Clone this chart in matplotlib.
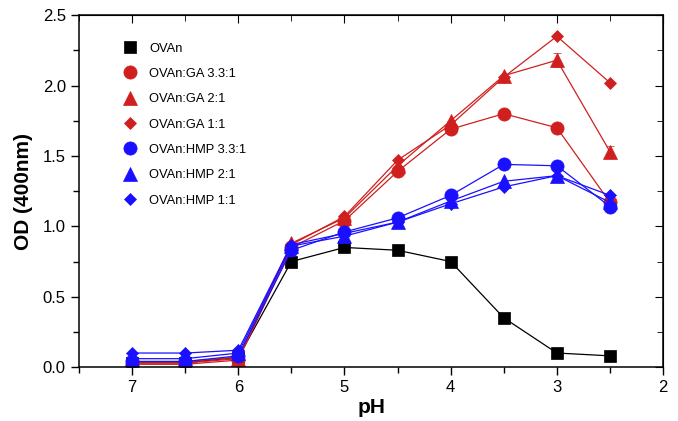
import matplotlib
matplotlib.use("Agg")
import matplotlib.pyplot as plt
import matplotlib.lines as mlines
from matplotlib.ticker import MultipleLocator, FormatStrFormatter

plt.rcParams['font.family'] = ['Liberation Sans', 'DejaVu Sans']

ph = [7, 6.5, 6, 5.5, 5, 4.5, 4, 3.5, 3, 2.5]
ovan = [0.03, 0.03, 0.07, 0.75, 0.85, 0.83, 0.75, 0.35, 0.10, 0.08]
ga33 = [0.02, 0.02, 0.05, 0.85, 1.04, 1.39, 1.69, 1.80, 1.70, 1.17]
ga21 = [0.03, 0.03, 0.06, 0.88, 1.06, 1.43, 1.75, 2.07, 2.18, 1.53]
ga11 = [0.04, 0.04, 0.07, 0.87, 1.07, 1.47, 1.72, 2.06, 2.35, 2.02]
hmp33 = [0.04, 0.04, 0.08, 0.83, 0.96, 1.06, 1.22, 1.44, 1.43, 1.14]
hmp21 = [0.06, 0.06, 0.10, 0.86, 0.93, 1.03, 1.18, 1.32, 1.36, 1.17]
hmp11 = [0.10, 0.10, 0.12, 0.87, 0.95, 1.03, 1.16, 1.28, 1.36, 1.22]
ga21_err = [0, 0, 0, 0, 0, 0, 0, 0, 0.05, 0.04]

labels = ['OVAn', 'OVAn:GA 3.3:1', 'OVAn:GA 2:1', 'OVAn:GA 1:1',
          'OVAn:HMP 3.3:1', 'OVAn:HMP 2:1', 'OVAn:HMP 1:1']

RED = '#d01f1f'
BLUE = '#1a10ff'

fig = plt.figure(figsize=(6.78, 4.21), dpi=100)
ax = fig.add_axes([0.1165, 0.128, 0.8615, 0.836])

series = [
    (ovan, 'black', 's', 8.5, None),
    (ga33, RED, 'o', 9.5, None),
    (ga21, RED, '^', 10, ga21_err),
    (ga11, RED, 'D', 6.5, None),
    (hmp33, BLUE, 'o', 9.5, None),
    (hmp21, BLUE, '^', 10, None),
    (hmp11, BLUE, 'D', 6.5, None),
]
for (vals, c, m, ms, err), lab in zip(series, labels):
    ax.errorbar(ph, vals, yerr=err, color=c, marker=m, markersize=ms, lw=0.9,
                capsize=3, elinewidth=0.9, markeredgewidth=0.5, label=lab)

ax.set_xlim(7.5, 2)
ax.set_ylim(0, 2.5)
ax.xaxis.set_major_locator(MultipleLocator(1))
ax.xaxis.set_minor_locator(MultipleLocator(0.5))
ax.yaxis.set_major_locator(MultipleLocator(0.5))
ax.yaxis.set_minor_locator(MultipleLocator(0.25))
ax.yaxis.set_major_formatter(FormatStrFormatter('%.1f'))
ax.tick_params(which='major', direction='out', length=6, width=1, labelsize=12)
ax.tick_params(which='minor', direction='out', length=4, width=1)

top = ax.secondary_xaxis('top')
top.xaxis.set_major_locator(MultipleLocator(1))
top.xaxis.set_minor_locator(MultipleLocator(0.5))
top.tick_params(which='major', direction='in', length=6, labeltop=False)
top.tick_params(which='minor', direction='in', length=4)
right = ax.secondary_yaxis('right')
right.yaxis.set_major_locator(MultipleLocator(0.5))
right.yaxis.set_minor_locator(MultipleLocator(0.25))
right.tick_params(which='major', direction='in', length=6, labelright=False)
right.tick_params(which='minor', direction='in', length=4)

for s in ax.spines.values():
    s.set_linewidth(1.1)

ax.set_xlabel('pH', fontsize=15, fontweight='bold', labelpad=2)
ax.set_ylabel('OD (400nm)', fontsize=15, fontweight='bold', labelpad=7)

hs = []
for (vals, c, m, ms, err), lab in zip(series, labels):
    hs.append(mlines.Line2D([], [], color=c, marker=m, markersize=ms, lw=0,
                            markeredgewidth=0.5))
ax.legend(hs, labels, loc='upper left', bbox_to_anchor=(0.067, 0.937),
          frameon=False, fontsize=9.3, handlelength=1.0, handletextpad=1.0,
          labelspacing=1.03, borderaxespad=0)

fig.savefig('out.png', dpi=100)
